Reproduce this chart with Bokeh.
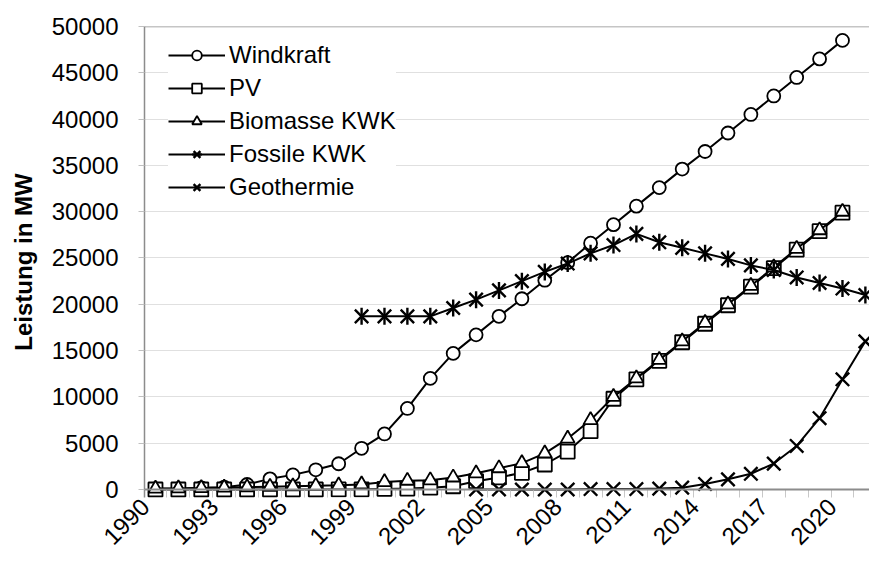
import math
from bokeh.plotting import figure
from bokeh.models import FixedTicker, Span, Legend, LegendItem, ColumnDataSource
from bokeh.embed import file_html
from bokeh.resources import INLINE

nan = float("nan")

years = list(range(1990, 2022))

windkraft = [70, 70, 180, 250, 540, 1150, 1580, 2130, 2780, 4450,
             6000, 8750, 12000, 14700, 16700, 18700, 20600, 22600, 24500, 26600,
             28600, 30600, 32600, 34600, 36500, 38500, 40500, 42500, 44500, 46500,
             48500, nan]
pv = [0, 0, 0, 0, 0, 0, 0, 0, 10, 20,
      60, 100, 200, 350, 900, 1300, 1800, 2700, 4100, 6300,
      9800, 11900, 13900, 15900, 17900, 19900, 21900, 23900, 25900, 27900,
      29900, nan]
biomasse = [100, 120, 150, 200, 250, 300, 350, 400, 450, 550,
            800, 950, 1000, 1300, 1750, 2300, 2850, 3900, 5500, 7500,
            10000, 12000, 14000, 16000, 18000, 20000, 22000, 24000, 26000, 28000,
            30000, nan]
fossile = [nan, nan, nan, nan, nan, nan, nan, nan, nan, 18700,
           18700, 18700, 18700, 19600, 20500, 21500, 22500, 23500, 24400, 25500,
           26400, 27600, 26700, 26100, 25500, 24900, 24200, 23700, 22900, 22300,
           21700, 21000]
geothermie = [nan, nan, nan, nan, nan, nan, nan, nan, nan, nan,
              nan, nan, nan, nan, 0, 0, 0, 0, 0, 50,
              50, 50, 100, 200, 600, 1100, 1700, 2800, 4700, 7700,
              11900, 16000]

series_names = ["Windkraft", "PV", "Biomasse KWK", "Fossile KWK", "Geothermie"]
x_tick_years = list(range(1990, 2021, 3))
y_ticks = list(range(0, 50001, 5000))

FONT = "Liberation Sans"

src = ColumnDataSource(dict(year=years, windkraft=windkraft, pv=pv, biomasse=biomasse,
                            fossile=fossile, geothermie=geothermie))

p = figure(width=869, height=555, output_backend="svg", toolbar_location=None,
           x_range=(1989.52, 2021.18), y_range=(-864, 50000),
           min_border_left=144, min_border_right=0, min_border_top=26, min_border_bottom=58)
p.outline_line_color = None
p.background_fill_color = "white"

# x axis: labels sit slightly left of the category centre, as in the original
label_shift = 0.45
tick_pos = [y - label_shift for y in x_tick_years]
xa = p.xaxis[0]
xa.ticker = FixedTicker(ticks=tick_pos, minor_ticks=[y - 0.5 for y in years] + [2021.5])
xa.major_label_overrides = {t: str(y) for t, y in zip(tick_pos, x_tick_years)}
xa.major_label_orientation = math.pi / 4
xa.major_label_text_font = FONT
xa.major_label_text_font_size = "24px"
xa.major_label_text_color = "black"
xa.axis_line_color = None
xa.major_tick_line_color = None
xa.major_tick_out = 0
xa.major_tick_in = 0
xa.minor_tick_line_color = "#c8c8c8"
xa.minor_tick_in = 8
xa.minor_tick_out = 0
xa.major_label_standoff = 5

ya = p.yaxis[0]
ya.ticker = FixedTicker(ticks=y_ticks)
ya.major_label_text_font = FONT
ya.major_label_text_font_size = "24px"
ya.major_label_text_color = "black"
ya.axis_line_color = "#8c8c8c"
ya.axis_line_width = 1.5
ya.major_tick_line_color = "#c0c0c0"
ya.major_tick_out = 6
ya.major_tick_in = 0
ya.minor_tick_line_color = None
ya.major_label_standoff = 20
ya.axis_label = "Leistung in MW"
ya.axis_label_text_font = FONT
ya.axis_label_text_font_style = "bold"
ya.axis_label_text_font_size = "24px"
ya.axis_label_text_color = "black"
ya.axis_label_standoff = 12

p.xgrid.visible = False
p.ygrid[0].ticker = FixedTicker(ticks=y_ticks)
p.ygrid.grid_line_color = "#e0e0e0"
p.ygrid.grid_line_width = 1.2

LW = 2
r = {}
l = p.line("year", "windkraft", source=src, line_color="black", line_width=LW)
s = p.scatter("year", "windkraft", source=src, marker="circle", size=13,
              line_color="black", line_width=1.8, fill_color="white")
r["Windkraft"] = [l, s]
l = p.line("year", "pv", source=src, line_color="black", line_width=LW)
s = p.scatter("year", "pv", source=src, marker="square", size=14,
              line_color="black", line_width=1.8, fill_color="white")
r["PV"] = [l, s]
l = p.line("year", "biomasse", source=src, line_color="black", line_width=LW)
s = p.scatter("year", "biomasse", source=src, marker="triangle", size=14,
              line_color="black", line_width=1.8, fill_color="white")
r["Biomasse KWK"] = [l, s]
l = p.line("year", "fossile", source=src, line_color="black", line_width=LW)
s1 = p.scatter("year", "fossile", source=src, marker="x", size=19,
               line_color="black", line_width=2.4)
s2 = p.scatter("year", "fossile", source=src, marker="dash", size=17, angle=math.pi / 2,
               line_color="black", line_width=2.4)
r["Fossile KWK"] = [l, s1, s2]
l = p.line("year", "geothermie", source=src, line_color="black", line_width=LW)
s = p.scatter("year", "geothermie", source=src, marker="x", size=19,
              line_color="black", line_width=2.4)
r["Geothermie"] = [l, s]

legend = Legend(items=[LegendItem(label=n, renderers=r[n]) for n in series_names],
                location=(24, 296), padding=10, margin=0, spacing=5,
                glyph_width=57, glyph_height=24, label_height=24, label_standoff=4,
                label_text_font=FONT, label_text_font_size="24px",
                label_text_color="black", border_line_color=None,
                background_fill_color="white", background_fill_alpha=1.0)
p.add_layout(legend)

# x axis line at zero and top border of the plot area
p.add_layout(Span(location=0, dimension="width", line_color="#8c8c8c", line_width=2))
p.add_layout(Span(location=50000, dimension="width", line_color="#8c8c8c", line_width=1.5))

open("out.html", "w").write(file_html(p, INLINE))
